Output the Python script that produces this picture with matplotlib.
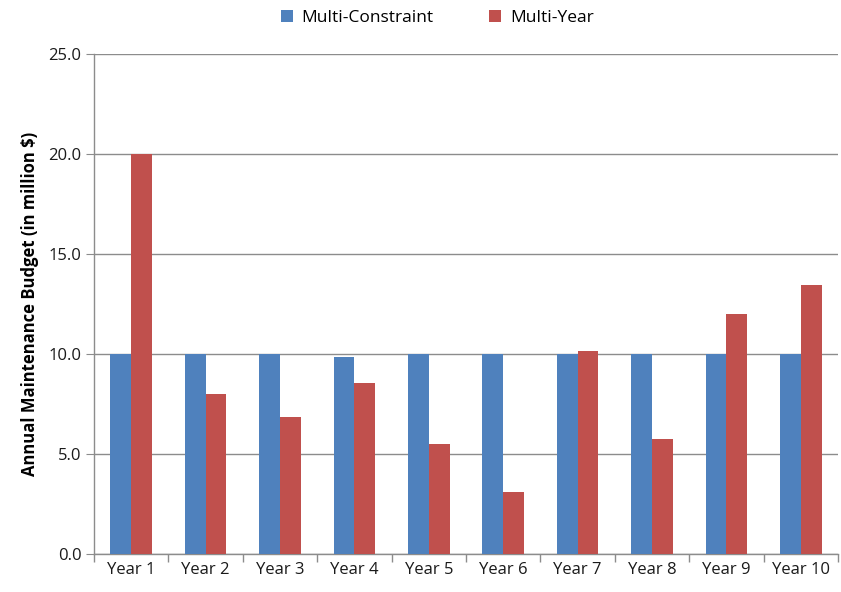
import numpy as np
import matplotlib
matplotlib.use("Agg")
import matplotlib.pyplot as plt
from matplotlib.ticker import FormatStrFormatter

plt.rcParams['font.family'] = ['Open Sans', 'DejaVu Sans']

# 数据
years = ['Year 1', 'Year 2', 'Year 3', 'Year 4', 'Year 5',
         'Year 6', 'Year 7', 'Year 8', 'Year 9', 'Year 10']
multi_constraint = [10.0, 10.0, 10.0, 9.83, 10.0, 10.0, 10.0, 10.0, 10.0, 10.0]
multi_year = [20.0, 8.0, 6.83, 8.55, 5.5, 3.08, 10.17, 5.75, 11.98, 13.43]

BLUE = '#4F81BD'
RED = '#C0504D'
GRID = '#8C8C8C'

fig = plt.figure(figsize=(8.41, 5.92), dpi=100)
ax = fig.add_axes([94 / 841, 38 / 592, 744 / 841, 500 / 592])

x = np.arange(len(years))
w = 0.28
ax.bar(x - w / 2, multi_constraint, w, color=BLUE, label='Multi-Constraint', zorder=3)
ax.bar(x + w / 2, multi_year, w, color=RED, label='Multi-Year', zorder=3)

ax.set_xlim(-0.5, len(years) - 0.5)
ax.set_ylim(0, 25)
ax.set_yticks(np.arange(0, 25.1, 5))
ax.yaxis.set_major_formatter(FormatStrFormatter('%.1f'))

# x 轴刻度在类别分界处，标签居中
ax.set_xticks(np.arange(-0.5, len(years), 1.0))
ax.set_xticklabels([])
ax.set_xticks(x, minor=True)
ax.set_xticklabels(years, minor=True)
ax.tick_params(axis='x', which='major', length=6, color=GRID, width=1)
ax.tick_params(axis='x', which='minor', length=0, labelsize=12, pad=6, colors='#1a1a1a')
ax.tick_params(axis='y', length=6, color=GRID, labelsize=12, pad=3, labelcolor='#1a1a1a')

ax.grid(axis='y', color=GRID, linewidth=1, zorder=0)
for s in ['top', 'right']:
    ax.spines[s].set_visible(False)
for s in ['left', 'bottom']:
    ax.spines[s].set_color(GRID)
    ax.spines[s].set_linewidth(1)

ax.set_ylabel('Annual Maintenance Budget (in million $)', fontsize=12,
              fontweight='bold', labelpad=7)

fig.legend(loc='upper center', bbox_to_anchor=(0.52, 1.01), ncol=2, frameon=False,
           fontsize=12.5, handlelength=0.7, handleheight=0.7, columnspacing=3.2,
           handletextpad=0.5)

fig.savefig('out.png', dpi=100)
